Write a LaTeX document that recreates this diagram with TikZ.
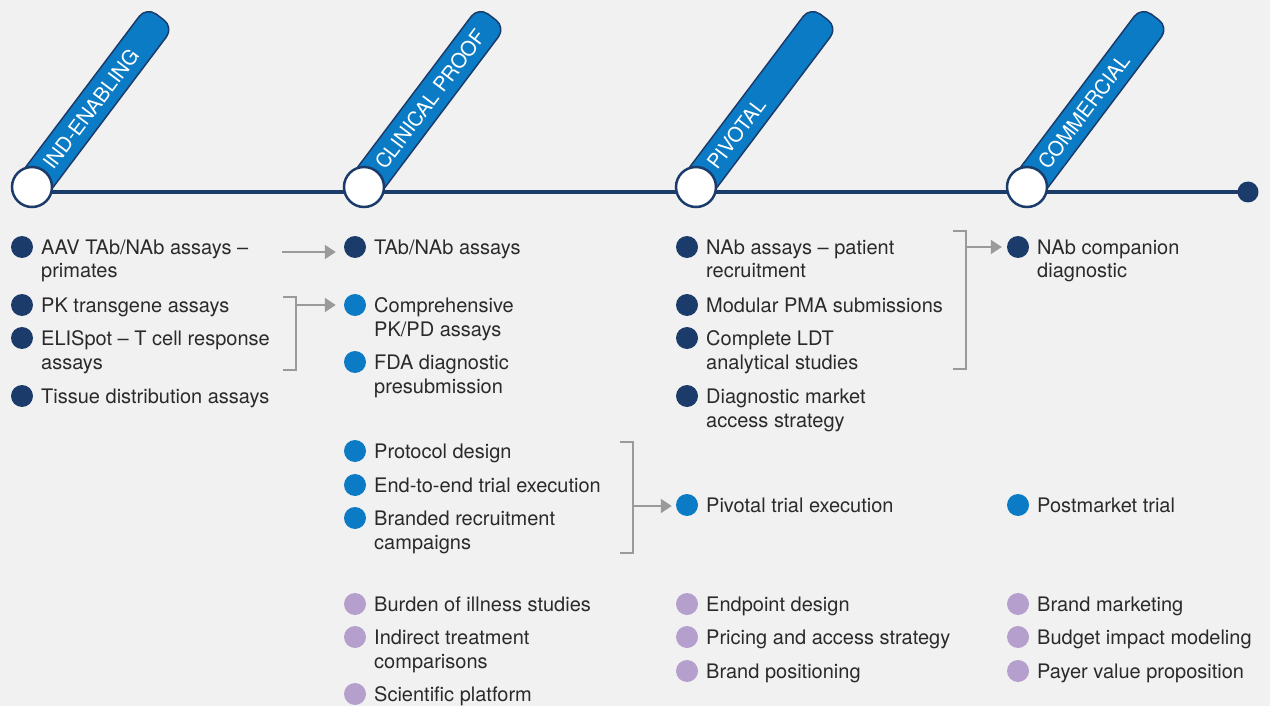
\documentclass[tikz,border=0pt]{standalone}
\usepackage{fontspec}
\setmainfont{TeX Gyre Heros}
\usetikzlibrary{arrows.meta,calc}
\definecolor{navy}{HTML}{1B3B6B}
\definecolor{tblue}{HTML}{0A7BC4}
\definecolor{lav}{HTML}{B59FCC}
\definecolor{bgc}{HTML}{F1F1F1}
\definecolor{txtc}{HTML}{2A2A2A}
\definecolor{arrc}{HTML}{9A9A9A}
\newcommand\twol[2]{\begin{tabular}[t]{@{}l@{}}#1\\#2\end{tabular}}
\newcommand\bitem[5]{%
  \node[#2] (#1d) at (#3,{-#4+7}) {};
  \node[itemtxt] (#1) at ({#3+19},-#4) {#5};}
\tikzset{
  x=1pt, y=1pt,
  tabbox/.style={rectangle, rounded corners=12pt, minimum height=34pt,
    inner sep=0pt, fill=tblue, draw=navy, line width=1.5pt, text=white,
    font=\fontsize{20.3}{24}\selectfont},
  stagecirc/.style={circle, minimum size=40pt, inner sep=0pt, fill=white, draw=navy, line width=2.5pt},
  enddotst/.style={circle, minimum size=21pt, inner sep=0pt, fill=navy},
  tline/.style={navy, line width=4.5pt},
  dn/.style={circle, fill=navy, minimum size=22pt, inner sep=0pt},
  db/.style={circle, fill=tblue, minimum size=22pt, inner sep=0pt},
  dl/.style={circle, fill=lav, minimum size=22pt, inner sep=0pt},
  itemtxt/.style={anchor=base west, inner sep=0pt, font=\fontsize{20}{24}\selectfont, text=txtc},
  conn/.style={arrc, line width=2pt},
  arr/.style={conn, -{Triangle[length=11pt,width=14pt]}},
}
\begin{document}
\begin{tikzpicture}
\fill[bgc] (0,0) rectangle (1270,-706);
\useasboundingbox (0,0) rectangle (1270,-706);

% stage tabs
\foreach \cx/\nm/\lb in {32/1/IND-ENABLING, 364/2/CLINICAL PROOF, 696/3/PIVOTAL, 1027/4/COMMERCIAL}{
  \node[tabbox, rotate=53, anchor=west] (t\nm) at (\cx,-187)
    {\makebox[212pt][l]{\hspace{25pt}\lb}};
}

% timeline
\node[enddotst] (enddot) at (1248,-192) {};
\coordinate (tstart) at (32,-192);
\draw[tline] (tstart) -- (enddot.center);
\node[stagecirc] (c1) at (32,-187) {};
\node[stagecirc] (c2) at (364,-187) {};
\node[stagecirc] (c3) at (696,-187) {};
\node[stagecirc] (c4) at (1027,-187) {};

% column 1
\bitem{a1}{dn}{22}{254}{\twol{AAV TAb/NAb assays –}{primates}}
\bitem{a2}{dn}{22}{312}{PK transgene assays}
\bitem{a3}{dn}{22}{345}{\twol{ELISpot – T cell response}{assays}}
\bitem{a4}{dn}{22}{403}{Tissue distribution assays}

% column 2
\bitem{b1}{dn}{355}{254}{TAb/NAb assays}
\bitem{b2}{db}{355}{312}{\twol{Comprehensive}{PK/PD assays}}
\bitem{b3}{db}{355}{369}{\twol{FDA diagnostic}{presubmission}}
\bitem{b4}{db}{355}{458}{Protocol design}
\bitem{b5}{db}{355}{492}{End-to-end trial execution}
\bitem{b6}{db}{355}{525}{\twol{Branded recruitment}{campaigns}}
\bitem{b7}{dl}{355}{611}{Burden of illness studies}
\bitem{b8}{dl}{355}{644}{\twol{Indirect treatment}{comparisons}}
\bitem{b9}{dl}{355}{701}{Scientific platform}

% column 3
\bitem{p1}{dn}{687}{254}{\twol{NAb assays – patient}{recruitment}}
\bitem{p2}{dn}{687}{312}{Modular PMA submissions}
\bitem{p3}{dn}{687}{345}{\twol{Complete LDT}{analytical studies}}
\bitem{p4}{dn}{687}{403}{\twol{Diagnostic market}{access strategy}}
\bitem{p5}{db}{687}{512}{Pivotal trial execution}
\bitem{p6}{dl}{687}{611}{Endpoint design}
\bitem{p7}{dl}{687}{644}{Pricing and access strategy}
\bitem{p8}{dl}{687}{678}{Brand positioning}

% column 4
\bitem{m1}{dn}{1018}{254}{\twol{NAb companion}{diagnostic}}
\bitem{m2}{db}{1018}{512}{Postmarket trial}
\bitem{m3}{dl}{1018}{611}{Brand marketing}
\bitem{m4}{dl}{1018}{644}{Budget impact modeling}
\bitem{m5}{dl}{1018}{678}{Payer value proposition}

% connectors
\coordinate (k1s) at (282,-252);
\draw[arr, shorten >=8pt] (k1s) -- (k1s -| b1d.west);

\coordinate (br1a) at (283,-297);
\coordinate (br1b) at (296,-297);
\coordinate (br1c) at (296,-370);
\coordinate (br1d) at (283,-370);
\draw[conn] (br1a) -- (br1b) -- (br1c) -- (br1d);
\coordinate (br1m) at (296,-305);
\draw[arr, shorten >=8pt] (br1m) -- (br1m -| b2d.west);

\coordinate (br2a) at (620,-442);
\coordinate (br2b) at (633,-442);
\coordinate (br2c) at (633,-553);
\coordinate (br2d) at (620,-553);
\draw[conn] (br2a) -- (br2b) -- (br2c) -- (br2d);
\coordinate (br2m) at (633,-506);
\draw[arr, shorten >=4pt] (br2m) -- (br2m -| p5d.west);

\coordinate (br3a) at (953,-231);
\coordinate (br3b) at (966,-231);
\coordinate (br3c) at (966,-369);
\coordinate (br3d) at (953,-369);
\draw[conn] (br3a) -- (br3b) -- (br3c) -- (br3d);
\coordinate (br3m) at (966,-247);
\draw[arr, shorten >=5pt] (br3m) -- (br3m -| m1d.west);
\end{tikzpicture}
\end{document}
